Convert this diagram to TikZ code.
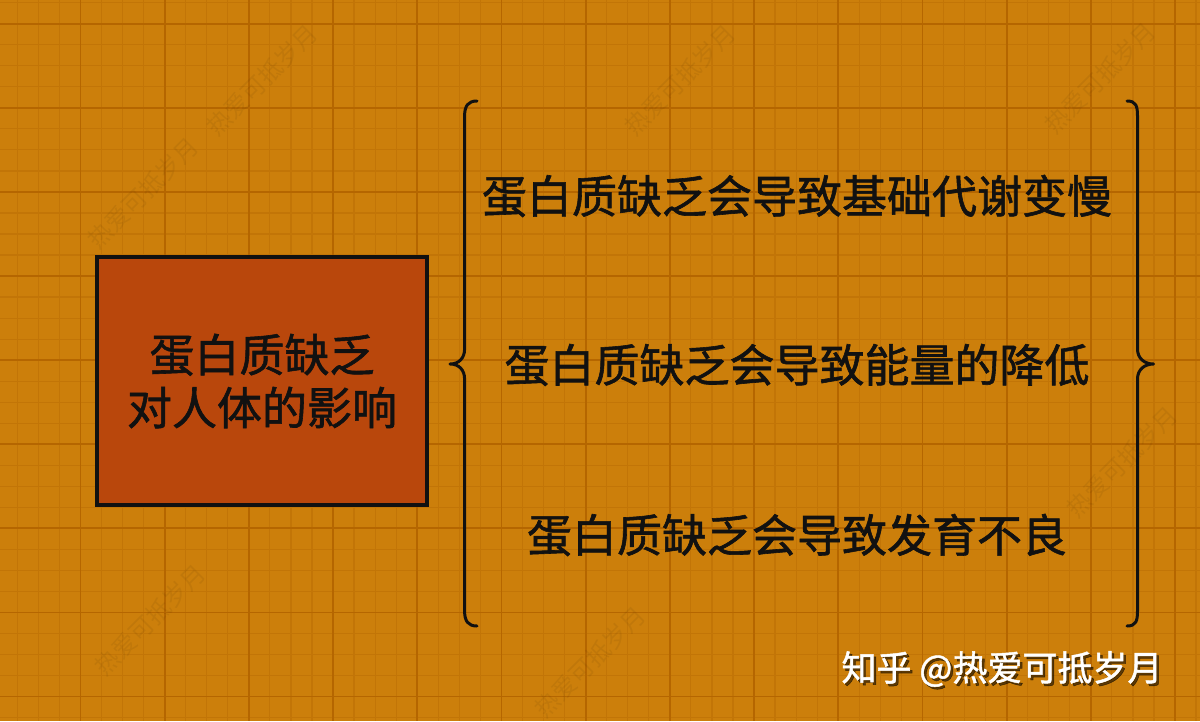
\documentclass[tikz,border=0pt]{standalone}
\usepackage{fontspec}
\setmainfont{Noto Sans CJK SC}
\newfontfamily\medfont[FakeBold=1.3]{Noto Sans CJK SC}
\definecolor{bgc}{HTML}{CC7F0B}
\definecolor{minorc}{HTML}{C27507}
\definecolor{majorc}{HTML}{B56600}
\definecolor{boxc}{HTML}{B9470C}
\definecolor{inkc}{HTML}{111111}
\tikzset{
  minorline/.style={draw=minorc, line width=1.2pt},
  majorline/.style={draw=majorc, line width=1.8pt},
  mainbox/.style={draw=inkc, line width=3.4pt, fill=boxc, minimum width=330pt, minimum height=248pt, inner sep=0pt},
  bigtext/.style={text=inkc, font=\medfont\fontsize{45}{53}\selectfont, inner sep=0pt, align=center},
  bracepath/.style={draw=inkc, line width=3pt, line cap=round, line join=round},
  wmark/.style={text=black, opacity=0.06, rotate=45, font=\fontsize{24}{24}\selectfont, inner sep=0pt},
  signtext/.style={font=\medfont\fontsize{35}{35}\selectfont, inner sep=0pt}
}
\begin{document}
\begin{tikzpicture}[x=1pt,y=-1pt]
\useasboundingbox (0,0) rectangle (1200,721);
\fill[bgc] (0,0) rectangle (1200,721);
% grid
\foreach \i in {0,...,58} {
  \draw[minorline] ({-3.8+21.05*\i},0) -- ++(0,721);
}
\foreach \i in {0,...,35} {
  \draw[minorline] (0,{2.67+21.03*\i}) -- ++(1200,0);
}
\foreach \i in {0,...,15} {
  \draw[majorline] ({-3.8+84.2*\i},0) -- ++(0,721);
}
\foreach \i in {0,...,9} {
  \draw[majorline] (0,{23.7+84.1*\i}) -- ++(1200,0);
}
% watermarks
\node[wmark] (w1) at (143,193) {热爱可抵岁月};
\node[wmark] (w2) at (262,80) {热爱可抵岁月};
\node[wmark] (w3) at (680,80) {热爱可抵岁月};
\node[wmark] (w4) at (1100,78) {热爱可抵岁月};
\node[wmark] (w5) at (150,620) {热爱可抵岁月};
\node[wmark] (w6) at (590,662) {热爱可抵岁月};
\node[wmark] (w7) at (1122,462) {热爱可抵岁月};
% main box
\node[mainbox] (box) at (262,381) {};
\node[bigtext] (boxtext) at (box.center) {蛋白质缺乏\\对人体的影响};
% left brace
\coordinate (lbt) at (477,101);
\coordinate (lbm) at (450,364);
\coordinate (lbb) at (477,626);
\draw[bracepath] (lbt) .. controls (468,101) and (464.6,106) .. (464.6,116)
  -- (464.6,349) .. controls (464.6,358) and (459,364) .. (lbm)
  .. controls (459,364) and (464.6,370) .. (464.6,379)
  -- (464.6,611) .. controls (464.6,621) and (468,626) .. (lbb);
% right brace
\coordinate (rbt) at (1127,101);
\coordinate (rbm) at (1153.6,364);
\coordinate (rbb) at (1127,626);
\draw[bracepath] (rbt) .. controls (1136,101) and (1137.5,106) .. (1137.5,116)
  -- (1137.5,349) .. controls (1137.5,358) and (1144,364) .. (rbm)
  .. controls (1144,364) and (1137.5,370) .. (1137.5,379)
  -- (1137.5,611) .. controls (1137.5,621) and (1136,626) .. (rbb);
% items
\node[bigtext] (t1) at (797,196) {蛋白质缺乏会导致基础代谢变慢};
\node[bigtext] (t2) at (797,365) {蛋白质缺乏会导致能量的降低};
\node[bigtext] (t3) at (797,535) {蛋白质缺乏会导致发育不良};
% signature
\node[signtext, text=black, opacity=0.55] (signshadow) at (1004.5,671.5) {知乎 @热爱可抵岁月};
\node[signtext, text=white] (sign) at (1002,669) {知乎 @热爱可抵岁月};
\end{tikzpicture}
\end{document}
